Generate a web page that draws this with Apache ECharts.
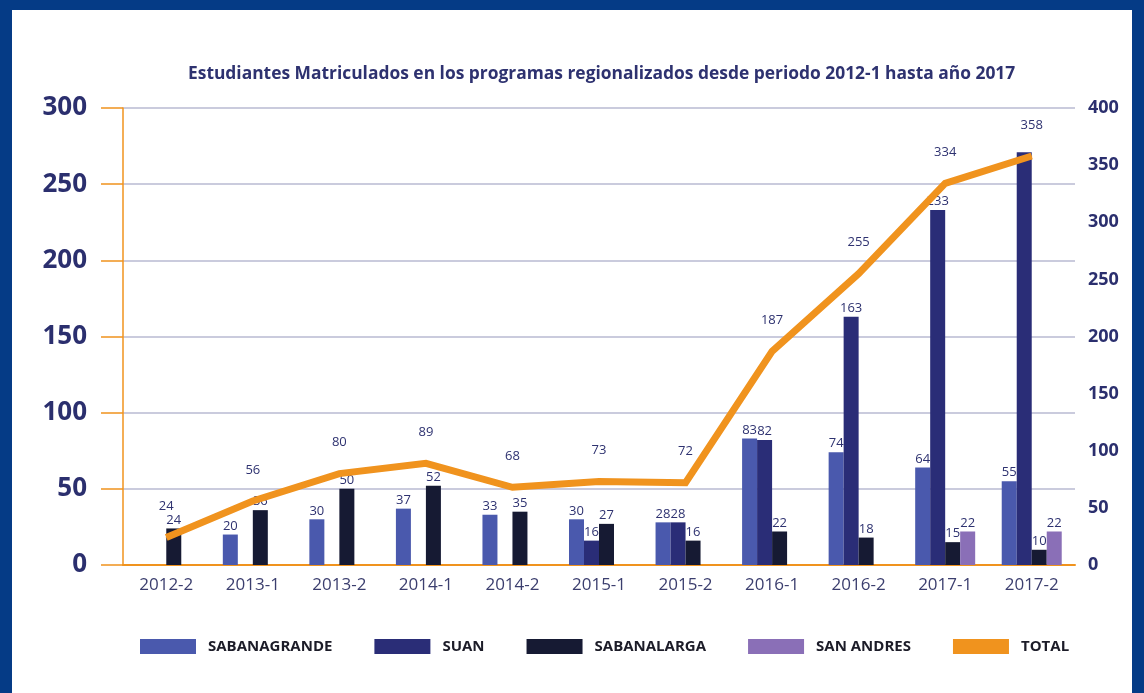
<!DOCTYPE html>
<html>
<head>
<meta charset="utf-8">
<title>Estudiantes Matriculados</title>
<script src="https://cdn.jsdelivr.net/npm/echarts@6/dist/echarts.min.js"></script>
<style>
  html, body { margin: 0; padding: 0; background: #ffffff; }
  #frame {
    width: 1144px; height: 693px; box-sizing: border-box;
    border-top: 10px solid #053b86; border-left: 12px solid #053b86; border-right: 12px solid #053b86;
    background: #ffffff; position: relative;
  }
  #chart { position: absolute; left: -12px; top: -10px; width: 1144px; height: 693px; }
</style>
</head>
<body>
<div id="frame"><div id="chart"></div></div>
<script>
// Periods
const periods = ['2012-2', '2013-1', '2013-2', '2014-1', '2014-2', '2015-1', '2015-2', '2016-1', '2016-2', '2017-1', '2017-2'];

// Enrolled students per campus ('-' = no students that period)
const sabanagrande = ['-', 20, 30, 37, 33, 30, 28, 83, 74, 64, 55];
const suan         = ['-', '-', '-', '-', '-', 16, 28, 82, 163, 233, 271];
const sabanalarga  = [24, 36, 50, 52, 35, 27, 16, 22, 18, 15, 10];
const sanAndres    = ['-', '-', '-', '-', '-', '-', '-', '-', '-', 22, 22];
const total        = [24, 56, 80, 89, 68, 73, 72, 187, 255, 334, 358];

// Values shown without a label
const suanHiddenLabel = ['2017-2'];

const navyText = '#2e3270';
const orange = '#f0931e';
const labelFont = { fontFamily: 'Open Sans', fontSize: 13, color: navyText };

function barSeries(name, values, color, hidden) {
  return {
    name: name,
    type: 'bar',
    barWidth: 15,
    barGap: '0%',
    itemStyle: { color: color },
    label: Object.assign({ show: true, position: 'top', distance: 2 }, labelFont),
    data: values.map((v, i) => (hidden && hidden.includes(periods[i]))
      ? { value: v, label: { show: false } } : v)
  };
}

const chart = echarts.init(document.getElementById('chart'));
chart.setOption({
  backgroundColor: 'transparent',
  animation: false,
  title: {
    text: 'Estudiantes Matriculados en los programas regionalizados desde periodo 2012-1 hasta año 2017',
    left: 183, top: 61,
    textStyle: { fontFamily: 'Open Sans', fontWeight: 'bold', fontSize: 17.4, color: navyText }
  },
  legend: {
    left: 135, top: 634,
    itemWidth: 56, itemHeight: 15, itemGap: 42,
    icon: 'rect',
    textStyle: { fontFamily: 'Open Sans', fontWeight: 'bold', fontSize: 15, color: '#1c1c28', padding: [0, 0, 0, 7] },
    data: [
      { name: 'SABANAGRANDE' }, { name: 'SUAN' }, { name: 'SABANALARGA' },
      { name: 'SAN ANDRES' }, { name: 'TOTAL', icon: 'rect', itemStyle: { color: orange } }
    ]
  },
  grid: { left: 123, right: 69, top: 108, bottom: 128 },
  xAxis: {
    type: 'category',
    data: periods,
    axisLine: { lineStyle: { color: orange, width: 2 } },
    axisTick: { show: false },
    axisLabel: { fontFamily: 'Open Sans', fontSize: 17, color: '#3b3e6e', margin: 12 }
  },
  yAxis: [
    {
      type: 'value', min: 0, max: 300, interval: 50,
      axisLine: { show: true, lineStyle: { color: orange, width: 1.5 } },
      axisTick: { show: true, length: 22, lineStyle: { color: orange, width: 1.5 } },
      axisLabel: { fontFamily: 'Open Sans', fontWeight: 'bold', fontSize: 26, color: '#2b2f6e', margin: 36 },
      splitLine: { lineStyle: { color: '#b9bad2', width: 1.5 } }
    },
    {
      type: 'value', min: 0, max: 400, interval: 50,
      axisLine: { show: false },
      axisTick: { show: false },
      axisLabel: { fontFamily: 'Open Sans', fontWeight: 'bold', fontSize: 18, color: '#2b2f6e', margin: 13 },
      splitLine: { show: false }
    }
  ],
  series: [
    barSeries('SABANAGRANDE', sabanagrande, '#4a59ad'),
    barSeries('SUAN', suan, '#2a2d77', suanHiddenLabel),
    barSeries('SABANALARGA', sabanalarga, '#161a33'),
    barSeries('SAN ANDRES', sanAndres, '#8a6fb7'),
    {
      name: 'TOTAL',
      type: 'line',
      yAxisIndex: 1,
      data: total,
      symbol: 'circle',
      symbolSize: 1,
      showSymbol: true,
      lineStyle: { color: orange, width: 7, join: 'miter' },
      itemStyle: { color: orange },
      label: Object.assign({ show: true, position: 'top', distance: 24 }, labelFont)
    }
  ]
});
</script>
</body>
</html>
